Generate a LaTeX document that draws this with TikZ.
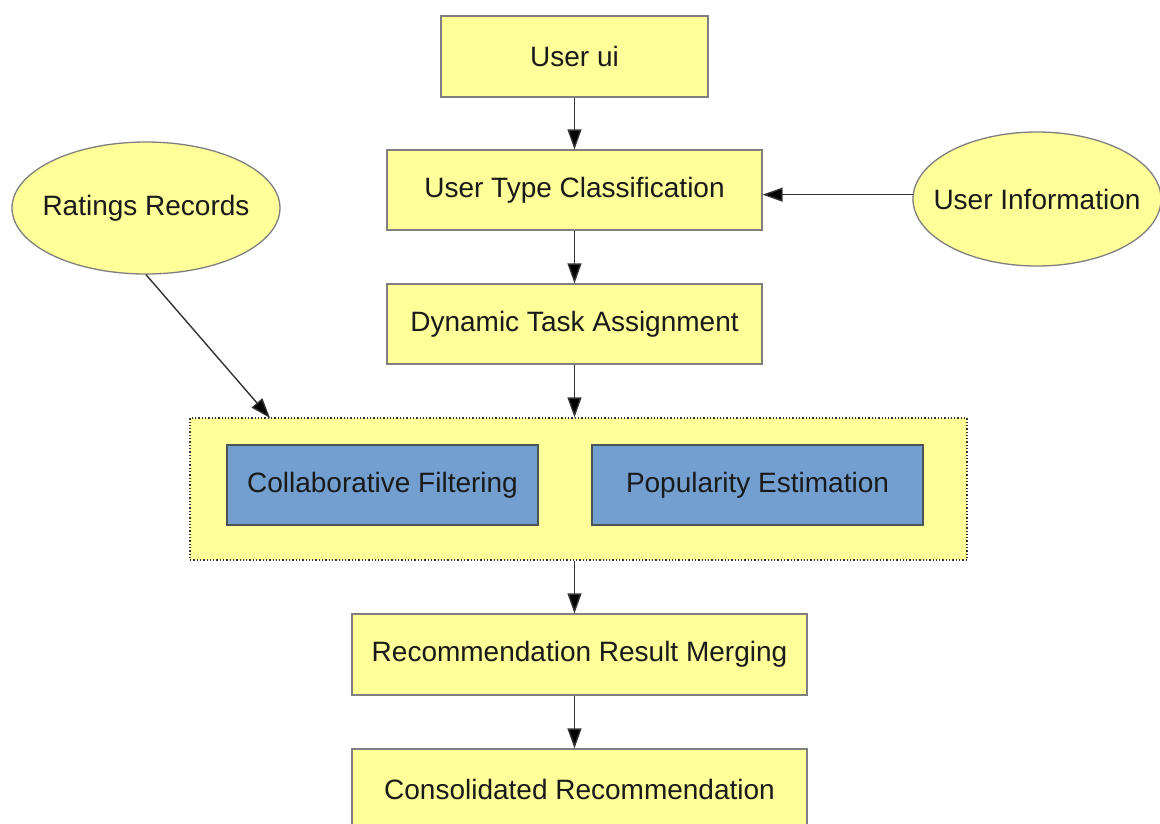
\documentclass[tikz,border=0pt]{standalone}
\usepackage{fontspec}
\setmainfont{Liberation Sans}
\usetikzlibrary{arrows.meta,shapes.geometric,calc}
\definecolor{paleyellow}{HTML}{FFFF99}
\definecolor{boxblue}{HTML}{729FCF}
\definecolor{boxborder}{HTML}{7F7F7F}
\definecolor{blueborder}{HTML}{4A5555}
\definecolor{linegrey}{HTML}{333333}
\definecolor{txt}{HTML}{1A1A1A}
\tikzset{
  lbl/.style={font=\fontsize{28}{34}\selectfont, text=txt, inner sep=0pt},
  ybox/.style={lbl, draw=boxborder, fill=paleyellow, line width=1.3pt, rectangle},
  bbox/.style={lbl, draw=blueborder, fill=boxblue, line width=1.8pt, rectangle},
  yell/.style={ellipse, draw=boxborder, fill=paleyellow, line width=1.3pt, inner sep=0pt},
  cont/.style={draw=linegrey, fill=paleyellow, dotted, line width=1.3pt, rectangle, inner sep=0pt},
  arr/.style={draw=linegrey, line width=1.4pt, -{Triangle[length=20pt,width=14pt,fill=black]}}
}
\begin{document}
\begin{tikzpicture}[x=1pt,y=-1pt]
\useasboundingbox[fill=white] (0,0) rectangle (1160,823);
% nodes
\node[ybox, minimum width=267pt, minimum height=81pt] (ui) at (574.5,56.5) {User ui};
\node[ybox, minimum width=375pt, minimum height=80pt] (utc) at (574.5,190) {User Type Classification};
\node[ybox, minimum width=375pt, minimum height=80pt] (dta) at (574.5,324) {Dynamic Task Assignment};
\node[yell, minimum width=268pt, minimum height=132pt, label={[lbl]center:Ratings Records}] (rr) at (146,208) {};
\node[yell, minimum width=248pt, minimum height=134pt, label={[lbl]center:User Information}] (uinfo) at (1037,199) {};
\node[cont, minimum width=777pt, minimum height=142pt] (container) at (578.5,489) {};
\node[bbox, minimum width=311pt, minimum height=80pt] (cf) at (382.5,485) {Collaborative Filtering};
\node[bbox, minimum width=331pt, minimum height=80pt] (pe) at (757.5,485) {Popularity Estimation};
\node[ybox, minimum width=455pt, minimum height=81pt] (rrm) at (579.5,654.5) {Recommendation Result Merging};
\node[ybox, minimum width=455pt, minimum height=81pt] (cr) at (579.5,789.5) {Consolidated Recommendation};
\coordinate (rrend) at (270,418);
% connectors
\draw[arr] (ui.south) -- (utc.north);
\draw[arr] (uinfo.178) -- (uinfo.178 -| utc.east);
\draw[arr] (utc.south) -- (dta.north);
\draw[arr] (dta.south) -- (dta.south |- container.north);
\draw[arr] (rr.south) -- (rrend);
\draw[arr] (dta.south |- container.south) -- (dta.south |- rrm.north);
\draw[arr] (dta.south |- rrm.south) -- (dta.south |- cr.north);
\end{tikzpicture}
\end{document}
